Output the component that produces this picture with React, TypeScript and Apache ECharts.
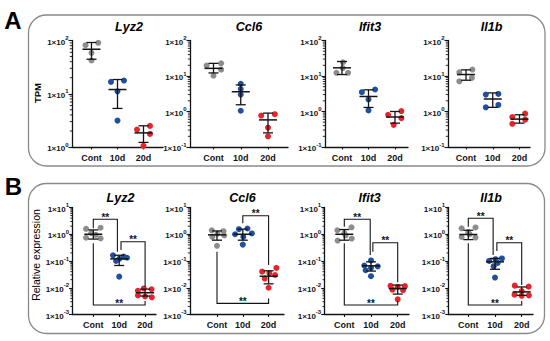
import React, { useEffect, useRef } from 'react';
import * as echarts from 'echarts';

const CATEGORIES = ['Cont', '10d', '20d'];

// ---------------- Panel A : TPM (log scale) ----------------
const A_RANGE_LYZ2 = [1, 100];
const A_RANGE = [0.1, 100];

// points per group [Cont, 10d, 20d]
const A_LYZ2_POINTS = [[90.6, 81.6, 58.8, 42.1], [17.7, 16.7, 11.1, 3.13], [2.49, 2.12, 1.76, 1.05]];
// error bars per group: [mean, lower, upper]
const A_LYZ2_BARS = [[68.5, 44.5, 91.7], [12.0, 5.3, 18.5], [1.84, 1.22, 2.5]];

const A_CCL6_POINTS = [[22.8, 19.6, 15.1, 10.2], [6.0, 4.3, 3.0, 1.05], [0.84, 0.77, 0.35, 0.2]];
const A_CCL6_BARS = [[16.4, 12.2, 22.7], [3.6, 1.55, 5.6], [0.58, 0.25, 0.9]];

const A_IFIT3_POINTS = [[24.4, 16.7, 12.3, 12.3], [4.17, 3.5, 2.18, 1.07], [1.03, 0.81, 0.65, 0.42]];
const A_IFIT3_BARS = [[17.0, 11.0, 25.6], [2.65, 1.3, 4.08], [0.7, 0.47, 1.0]];

const A_IL1B_POINTS = [[15.2, 12.7, 8.8, 7.08], [3.12, 2.99, 1.53, 1.31], [0.87, 0.7, 0.59, 0.45]];
const A_IL1B_BARS = [[11.0, 7.6, 14.9], [2.25, 1.31, 3.34], [0.61, 0.47, 0.81]];

// ---------------- Panel B : relative expression ----------------
const B_RANGE = [0.001, 10];

const B_LYZ2_POINTS = [[1.75, 1.6, 1.1, 0.95, 0.74, 0.7], [0.163, 0.146, 0.132, 0.12, 0.1, 0.026], [0.0094, 0.0088, 0.0077, 0.0052, 0.0047, 0.0044]];
const B_LYZ2_BARS = [[1.0, 0.66, 1.45], [0.12, 0.068, 0.164], [0.0065, 0.0049, 0.0089]];
// significance brackets: [fromGroup, toGroup, lineValue, leftEndValue, rightEndValue]
const B_LYZ2_SIG = [[0, 0.93, 3.62, 1.67, 0.223], [1.07, 2, 0.526, 0.257, 0.0107], [0, 2, 0.00226, 0.459, 0.0032]];

const B_CCL6_POINTS = [[1.4, 1.3, 1.05, 0.9, 0.8, 0.37], [1.64, 1.55, 1.07, 1.0, 0.8, 0.41], [0.055, 0.04, 0.035, 0.03, 0.022, 0.01]];
const B_CCL6_BARS = [[0.95, 0.6, 1.33], [1.0, 0.6, 1.55], [0.027, 0.014, 0.043]];
const B_CCL6_SIG = [[1, 2, 4.93, 2.56, 0.071], [0, 2, 0.0026, 0.223, 0.004]];

const B_IFIT3_POINTS = [[1.82, 1.41, 1.1, 0.9, 0.69, 0.58], [0.105, 0.068, 0.063, 0.055, 0.045, 0.027], [0.0119, 0.0115, 0.0107, 0.0085, 0.0081, 0.0037]];
const B_IFIT3_BARS = [[1.0, 0.6, 1.5], [0.066, 0.042, 0.093], [0.0093, 0.0058, 0.0126]];
const B_IFIT3_SIG = [[0, 0.97, 3.62, 1.91, 0.167], [1.07, 2, 0.483, 0.223, 0.016], [0, 2, 0.00226, 0.459, 0.0032]];

const B_IL1B_POINTS = [[1.8, 1.67, 1.2, 1.0, 0.79, 0.75], [0.125, 0.117, 0.101, 0.085, 0.064, 0.024], [0.012, 0.011, 0.0075, 0.0055, 0.0052, 0.005]];
const B_IL1B_BARS = [[0.98, 0.63, 1.41], [0.093, 0.049, 0.125], [0.007, 0.0052, 0.0107]];
const B_IL1B_SIG = [[0, 0.93, 3.94, 1.91, 0.167], [1.07, 2, 0.483, 0.237, 0.0127], [0, 2, 0.00226, 0.459, 0.0032]];

// ---------------- layout (horizontal scatter offsets, in category units) ----------------
const A_LYZ2_JIT = [[0.26, -0.23, 0, 0], [0.25, -0.25, 0, 0], [0.25, -0.25, 0.25, 0]];
const A_CCL6_JIT = [[0.28, -0.25, 0.28, 0], [0, 0, 0, 0], [0.25, -0.25, 0, 0]];
const A_IFIT3_JIT = [[0.04, 0.03, -0.21, 0.23], [0.25, -0.25, 0, 0], [0.24, -0.26, 0.24, -0.05]];
const A_IL1B_JIT = [[0.24, -0.25, 0.22, -0.25], [0.21, -0.26, 0.21, -0.26], [0.21, -0.27, 0.21, -0.27]];
const B_LYZ2_JIT = [[0.28, -0.28, -0.08, 0.1, -0.28, 0.28], [-0.24, 0.17, 0.3, 0, -0.12, 0], [-0.05, 0.25, -0.28, -0.28, 0, 0.26]];
const B_CCL6_JIT = [[-0.2, 0.25, 0.02, 0.28, -0.18, 0], [0.18, -0.15, 0.35, -0.3, 0.02, 0], [0.3, -0.25, 0.03, 0.25, -0.15, 0]];
const B_IFIT3_JIT = [[0.27, -0.26, 0, 0.05, 0.28, -0.25], [0, -0.25, 0.25, 0, -0.2, 0], [-0.27, 0.27, 0, -0.2, 0.2, 0]];
const B_IL1B_JIT = [[0.27, -0.25, 0, 0.05, -0.25, 0.27], [0.26, 0.02, -0.22, 0.1, -0.05, 0], [-0.26, 0.26, 0, -0.27, 0.27, 0]];

const FONT = '"Liberation Sans", Arial, Helvetica, sans-serif';
const INK = '#141414';
const GROUP_COLORS = ['#8d8d8d', '#1f4f9e', '#e6242b'];

const A_TOP = 40.5, A_BOTTOM = 147, B_TOP = 207.5, B_BOTTOM = 314.5;

const PLOTS = [
  { title: 'Lyz2', points: A_LYZ2_POINTS, bars: A_LYZ2_BARS, jit: A_LYZ2_JIT, range: A_RANGE_LYZ2, sig: null,
    lay: { left: 72, right: 163, top: A_TOP, bottom: A_BOTTOM, c0: 91.5, unit: 26, tx: 129, ty: 27 } },
  { title: 'Ccl6', points: A_CCL6_POINTS, bars: A_CCL6_BARS, jit: A_CCL6_JIT, range: A_RANGE, sig: null,
    lay: { left: 190, right: 288, top: A_TOP, bottom: A_BOTTOM, c0: 213.5, unit: 27.25, tx: 249, ty: 27 } },
  { title: 'Ifit3', points: A_IFIT3_POINTS, bars: A_IFIT3_BARS, jit: A_IFIT3_JIT, range: A_RANGE, sig: null,
    lay: { left: 325, right: 408, top: A_TOP, bottom: A_BOTTOM, c0: 342, unit: 26.5, tx: 370, ty: 27 } },
  { title: 'Il1b', points: A_IL1B_POINTS, bars: A_IL1B_BARS, jit: A_IL1B_JIT, range: A_RANGE, sig: null,
    lay: { left: 448, right: 530, top: A_TOP, bottom: A_BOTTOM, c0: 466, unit: 26.75, tx: 491.5, ty: 27 } },
  { title: 'Lyz2', points: B_LYZ2_POINTS, bars: B_LYZ2_BARS, jit: B_LYZ2_JIT, range: B_RANGE, sig: B_LYZ2_SIG,
    lay: { left: 72.5, right: 156, top: B_TOP, bottom: B_BOTTOM, c0: 93.3, unit: 25.9, tx: 120.5, ty: 198 } },
  { title: 'Ccl6', points: B_CCL6_POINTS, bars: B_CCL6_BARS, jit: B_CCL6_JIT, range: B_RANGE, sig: B_CCL6_SIG,
    lay: { left: 190, right: 284, top: B_TOP, bottom: B_BOTTOM, c0: 217, unit: 25.8, tx: 242.5, ty: 198 } },
  { title: 'Ifit3', points: B_IFIT3_POINTS, bars: B_IFIT3_BARS, jit: B_IFIT3_JIT, range: B_RANGE, sig: B_IFIT3_SIG,
    lay: { left: 324.7, right: 409, top: B_TOP, bottom: B_BOTTOM, c0: 344.3, unit: 26.7, tx: 369.7, ty: 197.5 } },
  { title: 'Il1b', points: B_IL1B_POINTS, bars: B_IL1B_BARS, jit: B_IL1B_JIT, range: B_RANGE, sig: B_IL1B_SIG,
    lay: { left: 448.7, right: 533, top: B_TOP, bottom: B_BOTTOM, c0: 468.3, unit: 26.7, tx: 491, ty: 197.5 } },
];

function minorValues(range: number[]) {
  const out: number[] = [];
  const e0 = Math.round(Math.log10(range[0]));
  const e1 = Math.round(Math.log10(range[1]));
  for (let e = e0; e < e1; e++) {
    for (let m = 2; m <= 9; m++) out.push(m * Math.pow(10, e));
  }
  return out;
}

const expLabel = (v: number) => {
  const e = Math.round(Math.log10(v));
  return `{a|1×10}{s|${e}}`;
};

function textStyle(text: string, font: string, align = 'center') {
  return {
    text, font, fill: '#000',
    textAlign: align, textVerticalAlign: 'middle', align, verticalAlign: 'middle',
  };
}

function buildOption() {
  const grid: any[] = [];
  const xAxis: any[] = [];
  const yAxis: any[] = [];
  const series: any[] = [];
  const graphic: any[] = [];

  PLOTS.forEach((p, i) => {
    const L = p.lay;
    const xMin = (L.left - L.c0) / L.unit;
    const xMax = (L.right - L.c0) / L.unit;
    grid.push({ left: L.left, top: L.top, width: L.right - L.left, height: L.bottom - L.top, containLabel: false });
    xAxis.push({
      type: 'value', gridIndex: i, min: xMin, max: xMax,
      axisLine: { show: true, onZero: false, lineStyle: { color: INK, width: 1.3 } },
      axisTick: { show: true, customValues: [0, 1, 2], length: 2.5, lineStyle: { color: INK, width: 1.1 } },
      axisLabel: {
        show: true, customValues: [0, 1, 2],
        formatter: (v: number) => CATEGORIES[Math.round(v)] ?? '',
        fontSize: 9, fontWeight: 'bold', color: INK, fontFamily: FONT, margin: 6,
      },
      splitLine: { show: false },
    });
    yAxis.push({
      type: 'log', logBase: 10, gridIndex: i, min: p.range[0], max: p.range[1],
      axisLine: { show: true, onZero: false, lineStyle: { color: INK, width: 1.3 } },
      axisTick: { show: true, length: 3.5, lineStyle: { color: INK, width: 1.1 } },
      axisLabel: {
        formatter: expLabel, margin: 3.5,
        rich: {
          a: { fontSize: 8, fontWeight: 'bold', color: INK, fontFamily: FONT, lineHeight: 11, verticalAlign: 'bottom' },
          s: { fontSize: 6, fontWeight: 'bold', color: INK, fontFamily: FONT, verticalAlign: 'top' },
        },
      },
      splitLine: { show: false },
    });

    series.push({
      type: 'custom', xAxisIndex: i, yAxisIndex: i, silent: true, z: 1,
      data: minorValues(p.range).map((v) => [xMin, v]),
      renderItem: (params: any, api: any) => {
        const c = api.coord([api.value(0), api.value(1)]);
        return { type: 'line', shape: { x1: c[0] - 2.2, y1: c[1], x2: c[0], y2: c[1] }, style: { stroke: INK, lineWidth: 0.9 } };
      },
    });

    p.points.forEach((vals, g) => {
      series.push({
        type: 'scatter', xAxisIndex: i, yAxisIndex: i, symbol: 'circle', symbolSize: 6, z: 2,
        itemStyle: { color: GROUP_COLORS[g], opacity: 1 },
        data: vals.map((v, k) => [g + p.jit[g][k], v]),
      });
    });

    series.push({
      type: 'custom', xAxisIndex: i, yAxisIndex: i, silent: true, z: 3,
      encode: { x: 0, y: 1 },
      data: p.bars.map((b, g) => [g, b[0], b[1], b[2]]),
      renderItem: (params: any, api: any) => {
        const x = api.value(0);
        const c = api.coord([x, api.value(1)]);
        const lo = api.coord([x, api.value(2)]);
        const hi = api.coord([x, api.value(3)]);
        const st = { stroke: INK, lineWidth: 1.3 };
        return {
          type: 'group', children: [
            { type: 'line', shape: { x1: c[0], y1: hi[1], x2: c[0], y2: lo[1] }, style: st },
            { type: 'line', shape: { x1: c[0] - 9, y1: c[1], x2: c[0] + 9, y2: c[1] }, style: { stroke: INK, lineWidth: 1.5 } },
            { type: 'line', shape: { x1: c[0] - 5, y1: hi[1], x2: c[0] + 5, y2: hi[1] }, style: st },
            { type: 'line', shape: { x1: c[0] - 5, y1: lo[1], x2: c[0] + 5, y2: lo[1] }, style: st },
          ],
        };
      },
    });

    if (p.sig) {
      series.push({
        type: 'custom', xAxisIndex: i, yAxisIndex: i, silent: true, z: 3,
        encode: { x: 0, y: 2 },
        data: p.sig,
        renderItem: (params: any, api: any) => {
          const x0 = api.value(0), x1 = api.value(1), yt = api.value(2), yl = api.value(3), yr = api.value(4);
          const a = api.coord([x0, yl]);
          const b = api.coord([x0, yt]);
          const c = api.coord([x1, yt]);
          const d = api.coord([x1, yr]);
          return {
            type: 'group', children: [
              { type: 'polyline', shape: { points: [a, b, c, d] }, style: { stroke: INK, lineWidth: 1.1, fill: null } },
              { type: 'text', x: (b[0] + c[0]) / 2, y: b[1] - 2, style: { ...textStyle('**', `bold 10px ${FONT}`), fill: INK } },
            ],
          };
        },
      });
    }

    graphic.push({ type: 'text', x: L.tx, y: L.ty, silent: true, style: textStyle(p.title, `italic bold 12.5px ${FONT}`) });
  });

  graphic.push(
    { type: 'rect', silent: true, z: -10, shape: { x: 28.5, y: 15, width: 516.5, height: 151, r: 18 }, style: { fill: 'none', stroke: '#8a8a8a', lineWidth: 1.3 } },
    { type: 'rect', silent: true, z: -10, shape: { x: 28.5, y: 183.5, width: 516, height: 150, r: 18 }, style: { fill: 'none', stroke: '#8a8a8a', lineWidth: 1.3 } },
    { type: 'text', x: 13, y: 20, silent: true, style: textStyle('A', `bold 24px ${FONT}`) },
    { type: 'text', x: 13.5, y: 186, silent: true, style: textStyle('B', `bold 24px ${FONT}`) },
    { type: 'text', x: 37, y: 93, rotation: Math.PI / 2, silent: true, style: textStyle('TPM', `bold 9.5px ${FONT}`) },
    { type: 'text', x: 36, y: 255, rotation: Math.PI / 2, silent: true, style: textStyle('Relative expression', `10.5px ${FONT}`) },
  );

  return { animation: false, backgroundColor: '#ffffff', grid, xAxis, yAxis, series, graphic };
}

export default function App() {
  const ref = useRef<HTMLDivElement>(null);
  useEffect(() => {
    if (!ref.current) return;
    const chart = echarts.init(ref.current, undefined, { renderer: 'svg' });
    chart.setOption(buildOption() as any);
    return () => chart.dispose();
  }, []);
  return (
    <div
      ref={ref}
      style={{ position: 'fixed', left: 0, top: 0, width: 550, height: 341, background: '#fff' }}
    />
  );
}
